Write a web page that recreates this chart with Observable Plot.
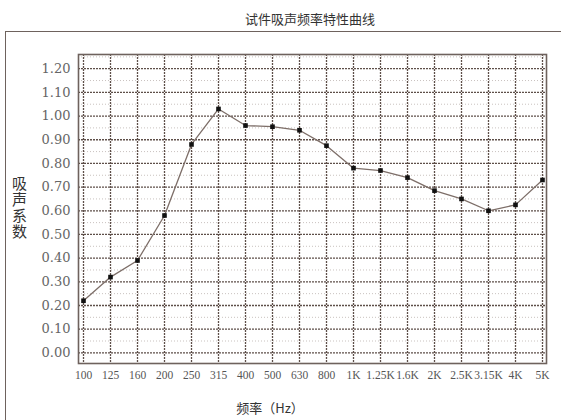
<!DOCTYPE html>
<html>
<head>
<meta charset="utf-8">
<script src="https://cdn.jsdelivr.net/npm/d3@7"></script>
<script src="https://cdn.jsdelivr.net/npm/@observablehq/plot@0.6"></script>
<style>
  html, body { margin: 0; padding: 0; background: #fff; }
  #wrap { position: relative; width: 561px; height: 420px; overflow: hidden; background: #fff; }
  #frame { position: absolute; left: 5px; top: 31px; width: 620px; height: 500px; border: 1.6px solid #6e625d; box-sizing: border-box; }
  #title { position: absolute; left: 0; width: 620px; top: 9px; text-align: center; font: 13px "Noto Sans CJK SC", sans-serif; color: #333; }
  #ytitle { position: absolute; left: 9px; top: 176px; writing-mode: vertical-rl; font: 15px "Noto Sans CJK SC", sans-serif; color: #333; letter-spacing: 1px; }
  #xtitle { position: absolute; left: 0; width: 540px; top: 398px; text-align: center; font: 13px "Noto Sans CJK SC", sans-serif; color: #333; }
  #chart { position: absolute; left: 0; top: 0; }
</style>
</head>
<body>
<div id="wrap">
  <div id="frame"></div>
  <div id="title">试件吸声频率特性曲线</div>
  <div id="ytitle">吸声系数</div>
  <div id="xtitle">频率（Hz）</div>
  <div id="chart"></div>
</div>
<script>
const freqLabels = ["100","125","160","200","250","315","400","500","630","800","1K","1.25K","1.6K","2K","2.5K","3.15K","4K","5K"];
const absorption = [0.22,0.32,0.39,0.58,0.88,1.03,0.96,0.955,0.94,0.875,0.78,0.77,0.74,0.685,0.65,0.60,0.625,0.73];
const yTicks = [0,0.1,0.2,0.3,0.4,0.5,0.6,0.7,0.8,0.9,1.0,1.1,1.2];
const yMinor = [0.05,0.15,0.25,0.35,0.45,0.55,0.65,0.75,0.85,0.95,1.05,1.15,1.25];

const data = freqLabels.map((f, i) => ({f, v: absorption[i]}));

const chart = Plot.plot({
  width: 561,
  height: 420,
  marginLeft: 78,
  marginRight: 15,
  marginTop: 54,
  marginBottom: 57,
  style: {background: "transparent", fontFamily: "Liberation Serif", fontSize: "12px", color: "#555"},
  x: {type: "point", domain: freqLabels, padding: 0},
  y: {domain: [-0.045, 1.26]},
  marks: [
    Plot.ruleY(yMinor, {stroke: "#c9c2bf", strokeWidth: 1, strokeDasharray: "1,2"}),
    Plot.ruleY(yTicks, {stroke: "#5e4f49", strokeWidth: 1.3, strokeDasharray: "2,1"}),
    Plot.ruleX(freqLabels, {stroke: "#5e4f49", strokeWidth: 1.3, strokeDasharray: "2,1"}),
    Plot.axisX({tickSize: 0, tickPadding: 7, fontSize: 11.5, fontFamily: "Liberation Serif", fill: "#555", label: null}),
    Plot.axisY(yTicks, {tickSize: 0, tickPadding: 8, tickFormat: d3.format(".2f"), fontSize: 13, fontFamily: "DejaVu Serif", fill: "#666", label: null}),
    Plot.frame({stroke: "#6e625d", strokeWidth: 1.6}),
    Plot.line(data, {x: "f", y: "v", stroke: "#7d6e68", strokeWidth: 1.3}),
    Plot.dot(data, {x: "f", y: "v", symbol: "square", r: 2.6, fill: "#111", stroke: "none"})
  ]
});
document.getElementById("chart").appendChild(chart);
</script>
</body>
</html>
